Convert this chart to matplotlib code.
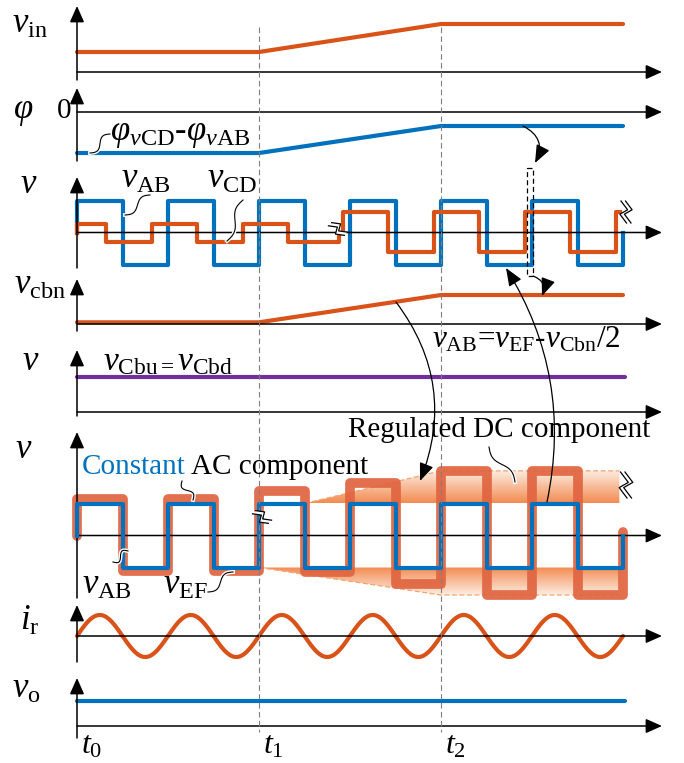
import numpy as np
import matplotlib
matplotlib.use('Agg')
import matplotlib.pyplot as plt
from matplotlib.patches import Polygon, Rectangle
from matplotlib.colors import LinearSegmentedColormap

plt.rcParams['font.family'] = ['Liberation Serif', 'DejaVu Serif']
plt.rcParams['mathtext.fontset'] = 'custom'
plt.rcParams['mathtext.rm'] = 'Liberation Serif'
plt.rcParams['mathtext.it'] = 'Liberation Serif:italic'
plt.rcParams['mathtext.bf'] = 'Liberation Serif:bold'

ORANGE = '#D95319'
ORANGE_THICK = '#E06440'
BLUE = '#0072BD'
PURPLE = '#7030A0'

# ---------------- data (time in units of t1 - t0) ----------------
t_marks = [0, 1, 2]
t_mark_labels = [r'$t_0$', r'$t_1$', r'$t_2$']

t_ramp = [0, 1, 2, 3]
vin = [1.0, 1.0, 2.4, 2.4]
phi_diff = [-2.93, -2.93, -1.0, -1.0]
v_cbn = [0.12, 0.12, 2.07, 2.07]

t_flat = [0, 3.01]
v_cbu = [1.0, 1.0]
v_o = [1.0, 1.0]

vAB_edges = [0.0, 0.25, 0.5, 0.75, 1.0, 1.25, 1.5, 1.75, 2.0, 2.25, 2.5, 2.75, 3.0]
vAB_levels = [1, -1, 1, -1, 1, -1, 1, -1, 1, -1, 1, -1]

vCD_pre_edges = [0.0, 0.16, 0.41, 0.66, 0.91, 1.16, 1.44]
vCD_pre_levels = [0.27, -0.3, 0.27, -0.3, 0.27, -0.3]
vCD_post_edges = [1.46, 1.71, 1.96, 2.21, 2.46, 2.71, 2.96, 2.985]
vCD_post_levels = [0.64, -0.61, 0.64, -0.61, 0.64, -0.61, 0.64]

vEF_edges = [0.0, 0.25, 0.5, 0.75, 1.0, 1.25, 1.5, 1.75, 2.0, 2.25, 2.5, 2.75, 3.0]
vEF_levels = [1.15, -1.12, 1.15, -1.12, 1.39, -1.15, 1.65, -1.52, 2.02, -1.86, 2.02, -1.86]
vEF_end = 0.12

env_up_t = [1.25, 2.0, 2.98]
env_up_v = [1.0, 2.02, 2.02]
env_lo_t = [1.0, 2.0, 2.98]
env_lo_v = [-1.0, -1.86, -1.86]

ir_zero_t = [0.0, 0.25, 0.5, 0.75, 1.0, 1.25, 1.5, 1.75, 2.0, 2.25, 2.5, 2.75, 3.0]
ir_half_peaks = [1, -1, 1, -1, 1, -1, 1, -1, 1, -1, 1, -1]

# ---------------- layout ----------------
W, H = 684, 763
X0, PX_PER_T = 77.0, 182.0
T_AXIS_END = (662 - X0) / PX_PER_T

fig = plt.figure(figsize=(W / 100, H / 100), dpi=100)


def px(t):
    return X0 + PX_PER_T * t


def make_panel(base, scale):
    ax = fig.add_axes([0, 0, 1, 1])
    ax.set_xlim(-X0 / PX_PER_T, (W - X0) / PX_PER_T)
    ax.set_ylim((base - H) / scale, base / scale)
    ax.axis('off')
    ax.patch.set_alpha(0)
    return ax


def axes_arrows(ax, base, scale, ytop, ybot):
    ap = dict(arrowstyle='-|>,head_length=0.45,head_width=0.2', color='k',
              lw=1.1, shrinkA=0, shrinkB=0, mutation_scale=22)
    ax.annotate('', xy=(T_AXIS_END, 0), xytext=(0, 0), arrowprops=ap)
    ax.annotate('', xy=(0, (base - ytop) / scale), xytext=(0, (base - ybot) / scale),
                arrowprops=ap)


def steps(edges, levels, start=None, end=None):
    xs, ys = [], []
    if start is not None:
        xs.append(edges[0]); ys.append(start)
    for i, lv in enumerate(levels):
        xs += [edges[i], edges[i + 1]]
        ys += [lv, lv]
    if end is not None:
        xs.append(edges[-1]); ys.append(end)
    return xs, ys


panels = {
    'vin': (72, 20, 6, 80),
    'phi': (112, 14, 88, 161),
    'v1': (232.5, 32, 177, 268),
    'cbn': (324, 14, 279, 331),
    'cbu': (412, 35, 350, 416),
    'v2': (535.5, 32, 432, 598),
    'ir': (636, 21, 605, 662),
    'vo': (726, 25, 678, 738),
}
axs = {}
for k, (b, s, yt, yb) in panels.items():
    axs[k] = make_panel(b, s)
    axes_arrows(axs[k], b, s, yt, yb)

LW = 3.0
axs['vin'].plot(t_ramp, vin, color=ORANGE, lw=LW, solid_capstyle='round')
axs['phi'].plot(t_ramp, phi_diff, color=BLUE, lw=LW, solid_capstyle='round')
axs['cbn'].plot(t_ramp, v_cbn, color=ORANGE, lw=LW, solid_capstyle='round')
axs['cbu'].plot(t_flat, v_cbu, color=PURPLE, lw=LW, solid_capstyle='round')
axs['vo'].plot(t_flat, v_o, color=BLUE, lw=LW, solid_capstyle='round')

# panel 3: vAB and vCD
ax = axs['v1']
x, y = steps(vAB_edges, vAB_levels, start=0, end=0)
ax.plot(x, y, color=BLUE, lw=LW)
x, y = steps(vCD_pre_edges, vCD_pre_levels, start=0, end=0)
ax.plot(x, y, color=ORANGE, lw=LW)
x, y = steps(vCD_post_edges, vCD_post_levels, start=0)
ax.plot(x, y, color=ORANGE, lw=LW)

# panel 6: vAB and vEF with envelopes
ax = axs['v2']
cmap = LinearSegmentedColormap.from_list('env', ['#FEEDE2', '#F28C52'])
for tt, vv, inner in [(env_up_t, env_up_v, 1.0), (env_lo_t, env_lo_v, -1.0)]:
    verts = list(zip(tt, vv)) + [(tt[-1], inner), (tt[0], inner)]
    poly = Polygon(verts, closed=True, facecolor='none', edgecolor='none')
    ax.add_patch(poly)
    vmin, vmax = min(vv + [inner]), max(vv + [inner])
    g = np.linspace(0, 1, 100)[:, None]
    if inner > 0:
        g = 1 - g
    im = ax.imshow(g, extent=[tt[0], tt[-1], vmin, vmax], origin='lower',
                   aspect='auto', cmap=cmap, zorder=1, interpolation='bilinear')
    im.set_clip_path(poly)
    ax.plot(tt, vv, color='#F4A46E', lw=0.9, ls=(0, (4, 2)), zorder=1.5)
x, y = steps(vEF_edges, vEF_levels, start=0, end=vEF_end)
ax.plot(x, y, color=ORANGE_THICK, lw=7, solid_joinstyle='round',
        solid_capstyle='round', alpha=0.92, zorder=2)
x, y = steps(vAB_edges, vAB_levels, start=0, end=0)
ax.plot(x, y, color=BLUE, lw=LW, zorder=3)
ax.set_xlim(-X0 / PX_PER_T, (W - X0) / PX_PER_T)
ax.set_ylim((535.5 - H) / 32, 535.5 / 32)

# panel 7: resonant current, drawn half-wave by half-wave
ax = axs['ir']
for i, pk in enumerate(ir_half_peaks):
    ta, tb = ir_zero_t[i], ir_zero_t[i + 1]
    tt = np.linspace(ta, tb, 40)
    ax.plot(tt, pk * np.sin(np.pi * (tt - ta) / (tb - ta)), color=ORANGE, lw=LW,
            solid_capstyle='round')

# ---------------- overlay (annotations in pixel space) ----------------
ov = fig.add_axes([0, 0, 1, 1])
ov.set_xlim(0, W)
ov.set_ylim(H, 0)
ov.axis('off')
ov.patch.set_alpha(0)

for tm in t_marks[1:]:
    ov.plot([px(tm), px(tm)], [27, 732], color='#7F7F7F', lw=0.8, ls=(0, (5, 3)), zorder=0)

LBL = 25
ov.text(12, 33, r'$v_{\rm in}$', fontsize=LBL)
ov.text(13, 118, r'$\varphi$', fontsize=LBL)
ov.text(57, 118, '0', fontsize=21)
ov.text(110, 140, r'$\varphi_{v\rm CD}$-$\varphi_{v\rm AB}$', fontsize=25)
ov.text(20, 193, r'$v$', fontsize=LBL)
ov.text(121, 188, r'$v_{\rm AB}$', fontsize=LBL)
ov.text(207, 188, r'$v_{\rm CD}$', fontsize=LBL)
ov.text(14, 294, r'$v_{\rm cbn}$', fontsize=LBL)
ov.text(432, 348, r'$v_{\rm AB}$=$v_{\rm EF}$-$v_{\rm Cbn}$/2', fontsize=22.5)
ov.text(22, 370, r'$v$', fontsize=LBL)
ov.text(103, 370, r'$v_{\rm Cbu=}v_{\rm Cbd}$', fontsize=24)
ov.text(15, 458, r'$v$', fontsize=LBL)
ov.text(82, 474, 'Constant', fontsize=21, color=BLUE)
ov.text(191, 474, 'AC component', fontsize=21)
ov.text(348, 437, 'Regulated DC component', fontsize=21)
ov.text(82, 594, r'$v_{\rm AB}$', fontsize=LBL)
ov.text(163, 594, r'$v_{\rm EF}$', fontsize=LBL)
ov.text(20, 630, r'$i_{\rm r}$', fontsize=LBL)
ov.text(12, 698, r'$v_{\rm o}$', fontsize=LBL)
for tm, lab in zip(t_marks, t_mark_labels):
    ov.text(px(tm) + 4, 753, lab, fontsize=23)


def squiggle(p0, p1, amp=3.5, lw=0.8):
    s = np.linspace(0, 1, 50)
    p0, p1 = np.array(p0, float), np.array(p1, float)
    d = p1 - p0
    n = np.array([-d[1], d[0]]) / np.hypot(*d)
    pts = p0[None, :] + s[:, None] * d[None, :] + (amp * np.sin(2 * np.pi * s))[:, None] * n[None, :]
    ov.plot(pts[:, 0], pts[:, 1], color='white', lw=lw + 2, zorder=5)
    ov.plot(pts[:, 0], pts[:, 1], color='k', lw=lw, zorder=6)


squiggle((90, 153), (110, 134))
squiggle((125, 215), (150, 195))
squiggle((227, 241), (243, 200))
squiggle((193, 500), (182, 481))
squiggle((113, 562), (128, 551))
squiggle((208, 592), (233, 572))
squiggle((489, 447), (515, 482))


def carrow(p0, p1, rad):
    ov.annotate('', xy=p1, xytext=p0,
                arrowprops=dict(arrowstyle='-|>,head_length=0.55,head_width=0.22',
                                connectionstyle=f'arc3,rad={rad}', color='k', lw=0.9,
                                shrinkA=0, shrinkB=0, mutation_scale=20), zorder=7)


carrow((523, 126), (535, 163), -0.5)
carrow((533, 276), (542, 296), -0.5)
carrow((396, 302), (420, 481), -0.28)
carrow((547, 502), (506, 268), 0.2)
ov.add_patch(Rectangle((527, 168), 6, 108, fill=False, ec='k', lw=0.9, ls=(0, (4, 2.5)), zorder=6))


def brk(cx, cy, ang, size=11, gap=4.5):
    base = np.array([[-0.25, -1.0], [0.35, -0.2], [-0.35, 0.2], [0.25, 1.0]]) * size
    a = np.deg2rad(ang)
    R = np.array([[np.cos(a), -np.sin(a)], [np.sin(a), np.cos(a)]])
    l1 = (base + [-gap / 2, 0]) @ R.T + [cx, cy]
    l2 = (base + [gap / 2, 0]) @ R.T + [cx, cy]
    ov.add_patch(Polygon(np.vstack([l1, l2[::-1]]), closed=True, fc='white', ec='none', zorder=8))
    ov.plot(l1[:, 0], l1[:, 1], color='k', lw=0.9, zorder=9)
    ov.plot(l2[:, 0], l2[:, 1], color='k', lw=0.9, zorder=9)


brk(338, 229, -45, size=9)
brk(626, 212, 0)
brk(262, 517, -45, size=9)
brk(626, 485, 0, size=13)

fig.savefig('out.png', dpi=100)
